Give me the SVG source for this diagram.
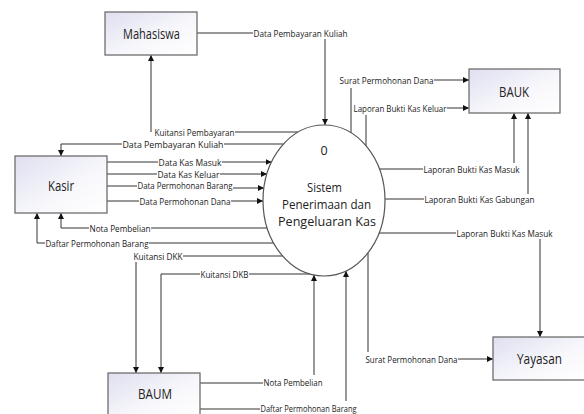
<svg xmlns="http://www.w3.org/2000/svg" width="584" height="414" viewBox="0 0 584 414">
<defs>
<linearGradient id="g" x1="0" y1="0" x2="1" y2="1">
<stop offset="0" stop-color="#dfdff0"/>
<stop offset="0.6" stop-color="#f8f8fc"/>
<stop offset="1" stop-color="#ffffff"/>
</linearGradient>
<marker id="a" markerWidth="8" markerHeight="8" refX="6" refY="3" orient="auto" markerUnits="userSpaceOnUse">
<path d="M0,0 L6,3 L0,6 Z" fill="#111"/>
</marker>
<style>
.box{fill:url(#g);stroke:#6e6e6e;stroke-width:1.3}
.bt{font-family:"Open Sans","Noto Sans",sans-serif;font-size:14px;fill:#222;dominant-baseline:central}
.et{font-family:"Open Sans","Noto Sans",sans-serif;font-size:12.5px;fill:#222;dominant-baseline:central}
.lb{font-family:"Open Sans","Noto Sans",sans-serif;font-size:8.5px;fill:#1a1a1a;dominant-baseline:central}
.ln{fill:none;stroke:#333;stroke-width:1}
.ar{marker-end:url(#a)}
</style>
</defs>
<rect width="584" height="414" fill="#fff"/>
<g id="connectors">
<path class="ln" d="M197,33 H253"/><path class="ln ar" d="M325,39 V125"/>
<path class="ln" d="M351,133 V88"/><path class="ln ar" d="M434,80 H469"/>
<path class="ln" d="M366,146 V115"/><path class="ln ar" d="M447,108 H469"/>
<path class="ln" d="M379,169 H423"/><path class="ln ar" d="M514,163 V113"/>
<path class="ln" d="M385,199 H424"/><path class="ln ar" d="M528,194 V113"/>
<path class="ln" d="M379,233 H456"/><path class="ln ar" d="M540,239 V337"/>
<path class="ln" d="M368,253 V352"/><path class="ln ar" d="M458,359 H493"/>
<path class="ln" d="M298,132 H235"/><path class="ln ar" d="M151,132 V55"/>
<path class="ln" d="M283.5,144 H224"/><path class="ln ar" d="M122,144 H61 V156"/>
<path class="ln" d="M107,162 H158"/><path class="ln ar" d="M222,162 H271.5"/>
<path class="ln" d="M107,174 H157"/><path class="ln ar" d="M220,174 H267"/>
<path class="ln" d="M107,186 H137"/><path class="ln ar" d="M233,188 H264"/>
<path class="ln" d="M107,201 H139"/><path class="ln ar" d="M231,201 H263"/>
<path class="ln" d="M267,228 H151"/><path class="ln ar" d="M89,228 H61 V213"/>
<path class="ln" d="M273.6,243 H149"/><path class="ln ar" d="M45,243 H37 V213"/>
<path class="ln" d="M282.6,256 H183"/><path class="ln ar" d="M136,262 V373"/>
<path class="ln" d="M310,274 H249"/><path class="ln ar" d="M200,274 H161 V373"/>
<path class="ln" d="M200,383 H263"/><path class="ln ar" d="M314,375 V275"/>
<path class="ln" d="M200,409 H260"/><path class="ln ar" d="M346,401 V271"/>
<text class="lb" x="253.5" y="33" textLength="94" lengthAdjust="spacingAndGlyphs">Data Pembayaran Kuliah</text>
<text class="lb" x="339.5" y="80" textLength="94" lengthAdjust="spacingAndGlyphs">Surat Permohonan Dana</text>
<text class="lb" x="353.5" y="108" textLength="93" lengthAdjust="spacingAndGlyphs">Laporan Bukti Kas Keluar</text>
<text class="lb" x="423.5" y="169" textLength="96" lengthAdjust="spacingAndGlyphs">Laporan Bukti Kas Masuk</text>
<text class="lb" x="424.5" y="199" textLength="110" lengthAdjust="spacingAndGlyphs">Laporan Bukti Kas Gabungan</text>
<text class="lb" x="456.5" y="233" textLength="96" lengthAdjust="spacingAndGlyphs">Laporan Bukti Kas Masuk</text>
<text class="lb" x="365.5" y="359" textLength="92" lengthAdjust="spacingAndGlyphs">Surat Permohonan Dana</text>
<text class="lb" x="154.5" y="132" textLength="80" lengthAdjust="spacingAndGlyphs">Kuitansi Pembayaran</text>
<text class="lb" x="122.5" y="144" textLength="101" lengthAdjust="spacingAndGlyphs">Data Pembayaran Kuliah</text>
<text class="lb" x="158.5" y="162" textLength="63" lengthAdjust="spacingAndGlyphs">Data Kas Masuk</text>
<text class="lb" x="157.5" y="174" textLength="62" lengthAdjust="spacingAndGlyphs">Data Kas Keluar</text>
<text class="lb" x="137.5" y="185" textLength="95" lengthAdjust="spacingAndGlyphs">Data Permohonan Barang</text>
<text class="lb" x="139.5" y="201" textLength="91" lengthAdjust="spacingAndGlyphs">Data Permohonan Dana</text>
<text class="lb" x="89.5" y="228" textLength="61" lengthAdjust="spacingAndGlyphs">Nota Pembelian</text>
<text class="lb" x="45.5" y="243" textLength="103" lengthAdjust="spacingAndGlyphs">Daftar Permohonan Barang</text>
<text class="lb" x="133.5" y="256" textLength="49" lengthAdjust="spacingAndGlyphs">Kuitansi DKK</text>
<text class="lb" x="200.5" y="274" textLength="48" lengthAdjust="spacingAndGlyphs">Kuitansi DKB</text>
<text class="lb" x="263.5" y="382" textLength="59" lengthAdjust="spacingAndGlyphs">Nota Pembelian</text>
<text class="lb" x="260.5" y="408" textLength="96" lengthAdjust="spacingAndGlyphs">Daftar Permohonan Barang</text>
</g>
<g id="mahasiswa"><rect class="box" x="105" y="12" width="92" height="43"/><text class="bt" x="123" y="33" textLength="57" lengthAdjust="spacingAndGlyphs">Mahasiswa</text></g>
<g id="bauk"><rect class="box" x="469" y="69" width="91" height="44"/><text class="bt" x="499" y="91" textLength="30" lengthAdjust="spacingAndGlyphs">BAUK</text></g>
<g id="kasir"><rect class="box" x="15" y="156" width="92" height="57"/><text class="bt" x="48" y="185" textLength="26" lengthAdjust="spacingAndGlyphs">Kasir</text></g>
<g id="baum"><rect class="box" x="108" y="373" width="92" height="45"/><text class="bt" x="138" y="393" textLength="34" lengthAdjust="spacingAndGlyphs">BAUM</text></g>
<g id="yayasan"><rect class="box" x="493" y="337" width="92" height="43"/><text class="bt" x="517" y="358" textLength="45" lengthAdjust="spacingAndGlyphs">Yayasan</text></g>
<g id="proses">
<ellipse cx="324" cy="200.5" rx="61" ry="75.5" fill="#fff" stroke="#555" stroke-width="1.2"/>
<text class="et" x="324" y="150" text-anchor="middle" font-size="11">0</text>
<text class="et" x="307" y="187" textLength="35" lengthAdjust="spacingAndGlyphs">Sistem</text>
<text class="et" x="282" y="204" textLength="89" lengthAdjust="spacingAndGlyphs">Penerimaan dan</text>
<text class="et" x="278" y="221" textLength="98" lengthAdjust="spacingAndGlyphs">Pengeluaran Kas</text>
</g>
</svg>
